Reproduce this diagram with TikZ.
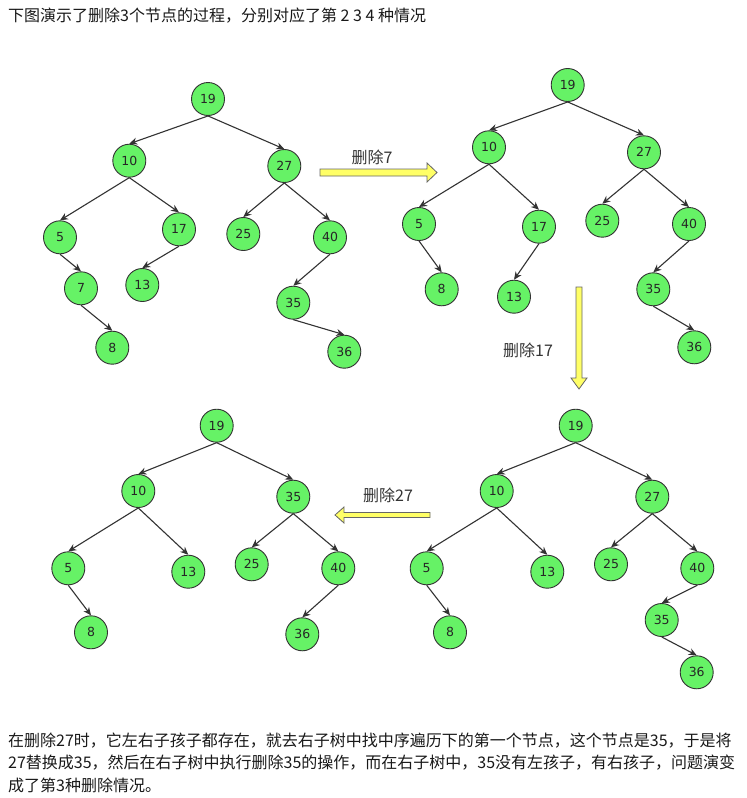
\documentclass[tikz,border=0pt]{standalone}
\usepackage{fontspec}
\setmainfont{DejaVu Sans}
\newfontfamily\cjk{Noto Sans CJK SC}
\usetikzlibrary{arrows.meta}
\definecolor{nodegreen}{HTML}{66F266}
\definecolor{linegray}{HTML}{333333}
\definecolor{arrowyellow}{HTML}{FFFF66}
\begin{document}
\begin{tikzpicture}[x=1pt,y=-1pt,
  bst/.style={circle, draw=linegray, fill=nodegreen, minimum size=33pt, inner sep=0pt, line width=0.9pt, font=\fontsize{12.5}{14}\selectfont, text=black!85},
  edge/.style={draw=linegray, line width=1.1pt, -{Stealth[length=8pt,width=7pt]}},
  bigarrow/.style={draw=black!60, fill=arrowyellow, line width=0.8pt, line join=miter},
  cjktext/.style={font=\cjk\fontsize{16}{18}\selectfont, text=black!90, inner sep=0pt},
  oplabel/.style={font=\cjk\fontsize{16}{18}\selectfont, text=black!80, inner sep=0pt}]
\useasboundingbox[fill=white] (0,0) rectangle (747,798);

% header
\node[cjktext, anchor=west] (title) at (8,16) {下图演示了删除3个节点的过程，分别对应了第 2 3 4 种情况};

% Tree A (top-left)
\node[bst] (a19) at (208,99) {19};
\node[bst] (a10) at (129.3,160.7) {10};
\node[bst] (a27) at (284.3,166) {27};
\node[bst] (a5) at (60,237.3) {5};
\node[bst] (a17) at (179,229.3) {17};
\node[bst] (a25) at (243.3,234) {25};
\node[bst] (a40) at (330,237.3) {40};
\node[bst] (a7) at (81,288.3) {7};
\node[bst] (a13) at (142.3,285) {13};
\node[bst] (a35) at (293.3,302.7) {35};
\node[bst] (a8) at (112.3,347.7) {8};
\node[bst] (a36) at (344.3,351.7) {36};
\foreach \p/\c in {19/10,19/27,10/5,10/17,27/25,27/40,5/7,17/13,40/35,7/8,35/36}
  \draw[edge] (a\p.south) -- (a\c.north);

% Tree B (top-right)
\node[bst] (b19) at (567.7,85) {19};
\node[bst] (b10) at (489,147.3) {10};
\node[bst] (b27) at (644,152.3) {27};
\node[bst] (b5) at (419,224) {5};
\node[bst] (b17) at (539,226.7) {17};
\node[bst] (b25) at (602.3,220.7) {25};
\node[bst] (b40) at (689,224) {40};
\node[bst] (b8) at (441.7,289.3) {8};
\node[bst] (b13) at (514,296.7) {13};
\node[bst] (b35) at (653.3,289.3) {35};
\node[bst] (b36) at (694.3,347.3) {36};
\foreach \p/\c in {19/10,19/27,10/5,10/17,27/25,27/40,5/8,17/13,40/35,35/36}
  \draw[edge] (b\p.south) -- (b\c.north);

% Tree C (bottom-right)
\node[bst] (c19) at (575.7,425.7) {19};
\node[bst] (c10) at (496.7,491) {10};
\node[bst] (c27) at (652.3,496.7) {27};
\node[bst] (c5) at (426.7,568.3) {5};
\node[bst] (c13) at (547.3,571.7) {13};
\node[bst] (c25) at (611,564.3) {25};
\node[bst] (c40) at (697.3,568.3) {40};
\node[bst] (c8) at (450,632.3) {8};
\node[bst] (c35) at (661.7,620) {35};
\node[bst] (c36) at (696.7,672.3) {36};
\foreach \p/\c in {19/10,19/27,10/5,10/13,27/25,27/40,5/8,40/35,35/36}
  \draw[edge] (c\p.south) -- (c\c.north);

% Tree D (bottom-left)
\node[bst] (d19) at (216.7,425.7) {19};
\node[bst] (d10) at (138.3,491) {10};
\node[bst] (d35) at (293.3,496.7) {35};
\node[bst] (d5) at (68.3,568.3) {5};
\node[bst] (d13) at (188.3,571.7) {13};
\node[bst] (d25) at (251.7,564.3) {25};
\node[bst] (d40) at (338.3,568.3) {40};
\node[bst] (d8) at (91,632.3) {8};
\node[bst] (d36) at (302.3,634.3) {36};
\foreach \p/\c in {19/10,19/35,10/5,10/13,35/25,35/40,5/8,40/36}
  \draw[edge] (d\p.south) -- (d\c.north);

% operation arrows
\draw[bigarrow] (320,169) -- (427,169) -- (427,163) -- (437,172.5) -- (427,182) -- (427,176) -- (320,176) -- cycle;
\node[oplabel] (op7) at (372,157) {删除7};

\draw[bigarrow] (576,287) -- (582,287) -- (582,378) -- (587,378) -- (579,389) -- (571,378) -- (576,378) -- cycle;
\node[oplabel] (op17) at (528,350) {删除17};

\draw[bigarrow] (430,512.5) -- (344,512.5) -- (344,507) -- (335,515) -- (344,523) -- (344,517.5) -- (430,517.5) -- cycle;
\node[oplabel] (op27) at (388,495) {删除27};

% footer
\node[cjktext, anchor=west] (line1) at (8,741) {在删除27时，它左右子孩子都存在，就去右子树中找中序遍历下的第一个节点，这个节点是35，于是将};
\node[cjktext, anchor=west] (line2) at (8,763) {27替换成35，然后在右子树中执行删除35的操作，而在右子树中，35没有左孩子，有右孩子，问题演变};
\node[cjktext, anchor=west] (line3) at (8,785) {成了第3种删除情况。};
\end{tikzpicture}
\end{document}
